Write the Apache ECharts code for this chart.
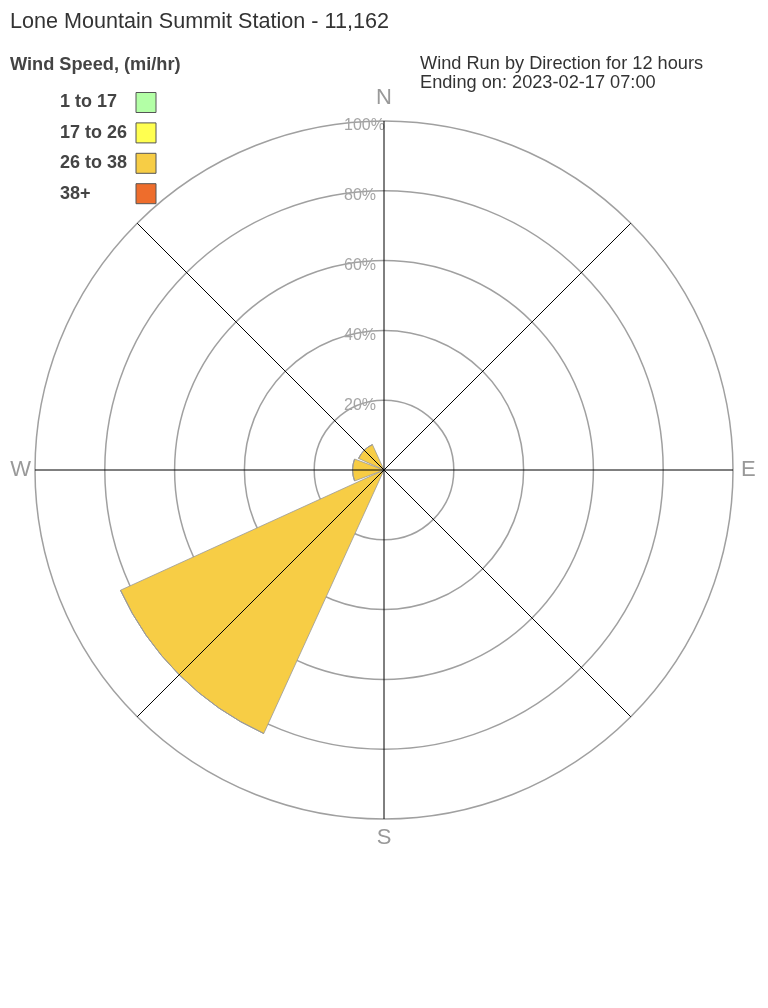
<!DOCTYPE html>
<html>
<head>
<meta charset="utf-8">
<script src="https://cdn.jsdelivr.net/npm/echarts@6/dist/echarts.min.js"></script>
<style>
html,body{margin:0;padding:0;background:#fff;}
#chart{width:768px;height:1008px;}
</style>
</head>
<body>
<div id="chart"></div>
<script>
// ---- data ----
const directions = ['N', 'NE', 'E', 'SE', 'S', 'SW', 'W', 'NW'];
const speedBins = ['1 to 17', '17 to 26', '26 to 38', '38+'];
const binColors = ['#B3FFA6', '#FFFF50', '#F7CD45', '#EE6D2C'];
const run1to17 = [0, 0, 0, 0, 0, 0, 0, 0];
const run17to26 = [0, 0, 0, 0, 0, 0, 0, 0];
const run26to38 = [0, 0, 0, 0, 0, 83, 9, 8];
const run38plus = [0, 0, 0, 0, 0, 0, 0, 0];
const binValues = [run1to17, run17to26, run26to38, run38plus];
const ringTicks = [0, 20, 40, 60, 80, 100];
const compassLabels = { 0: 'N', 90: 'E', 180: 'S', 270: 'W' };

const FONT = "'Liberation Sans', Arial, Helvetica, sans-serif";
const chart = echarts.init(document.getElementById('chart'), null, { renderer: 'canvas' });

const center = [384, 470];
const R = 349;

const series = speedBins.map((name, i) => ({
  type: 'bar',
  name: name,
  coordinateSystem: 'polar',
  polarIndex: 0,
  stack: 'run',
  data: binValues[i],
  barCategoryGap: '9%',
  itemStyle: { color: binColors[i], borderColor: '#999', borderWidth: 0.8 },
  z: 3
}));

chart.setOption({
  animation: false,
  backgroundColor: '#fff',
  title: [
    { text: 'Lone Mountain Summit Station - 11,162', left: 5, top: 6,
      textStyle: { fontFamily: FONT, fontSize: 21.6, fontWeight: 'normal', color: '#333' } },
    { text: 'Wind Speed, (mi/hr)', left: 5, top: 51,
      textStyle: { fontFamily: FONT, fontSize: 18.2, fontWeight: 'bold', color: '#444' } },
    { text: 'Wind Run by Direction for 12 hours\nEnding on: 2023-02-17 07:00', left: 415, top: 49,
      textStyle: { fontFamily: FONT, fontSize: 18.2, fontWeight: 'normal', color: '#333', lineHeight: 19 } }
  ],
  legend: {
    orient: 'vertical',
    left: 55,
    top: 87,
    align: 'right',
    itemWidth: 20,
    itemHeight: 20,
    itemGap: 9.4,
    icon: 'rect',
    selectedMode: false,
    data: speedBins,
    itemStyle: { borderColor: '#555', borderWidth: 1 },
    formatter: function (name) { return '{t|' + name + '}'; },
    textStyle: {
      fontFamily: FONT, fontSize: 18, fontWeight: 'bold', color: '#444',
      rich: { t: { fontFamily: FONT, fontSize: 18, fontWeight: 'bold', color: '#444', width: 71, align: 'left', lineHeight: 20 } }
    }
  },
  polar: [
    { center: center, radius: [0, R] },
    { center: center, radius: [0, R] }
  ],
  angleAxis: [
    {
      polarIndex: 0,
      type: 'category',
      data: directions,
      startAngle: 90 + 180 / directions.length,
      clockwise: true,
      axisLine: { show: false },
      axisTick: { show: false },
      axisLabel: { show: false },
      splitLine: { show: false }
    },
    {
      polarIndex: 1,
      type: 'value',
      min: 0,
      max: 360,
      interval: 45,
      startAngle: 90,
      clockwise: true,
      z: 6,
      axisLine: { show: false },
      axisTick: { show: false },
      splitLine: { show: true, lineStyle: { color: '#000', width: 1 } },
      axisLabel: {
        show: true,
        margin: 4,
        fontFamily: FONT,
        fontSize: 22,
        color: '#999',
        formatter: function (v) {
          const t = compassLabels[v];
          if (!t || v === 360) return '';
          return '{' + t.toLowerCase() + '|' + t + '}';
        },
        rich: {
          n: { fontFamily: FONT, fontSize: 22, color: '#999', padding: [0, 0, 8, 0] },
          s: { fontFamily: FONT, fontSize: 22, color: '#999', padding: [4, 0, 0, 0] },
          e: { fontFamily: FONT, fontSize: 22, color: '#999', padding: [0, 0, 0, 4] },
          w: { fontFamily: FONT, fontSize: 22, color: '#999', padding: [0, 0, 0, 0] }
        }
      }
    }
  ],
  radiusAxis: [
    {
      polarIndex: 0,
      type: 'value',
      min: 0,
      max: 100,
      show: false
    },
    {
      polarIndex: 1,
      type: 'value',
      min: ringTicks[0],
      max: ringTicks[ringTicks.length - 1],
      interval: 20,
      z: 1,
      axisLine: { show: false },
      axisTick: { show: false },
      splitLine: { show: true, lineStyle: { color: '#a0a0a0', width: 1.5 } },
      axisLabel: {
        show: true,
        align: 'left',
        margin: 40,
        fontFamily: FONT,
        fontSize: 16,
        color: '#a5a5a5',
        formatter: function (v) { return v === 0 ? '' : '{p|' + v + '%}'; },
        rich: { p: { fontFamily: FONT, fontSize: 16, color: '#a5a5a5', padding: [10, 0, 0, 0] } }
      }
    }
  ],
  series: series
});
</script>
</body>
</html>
